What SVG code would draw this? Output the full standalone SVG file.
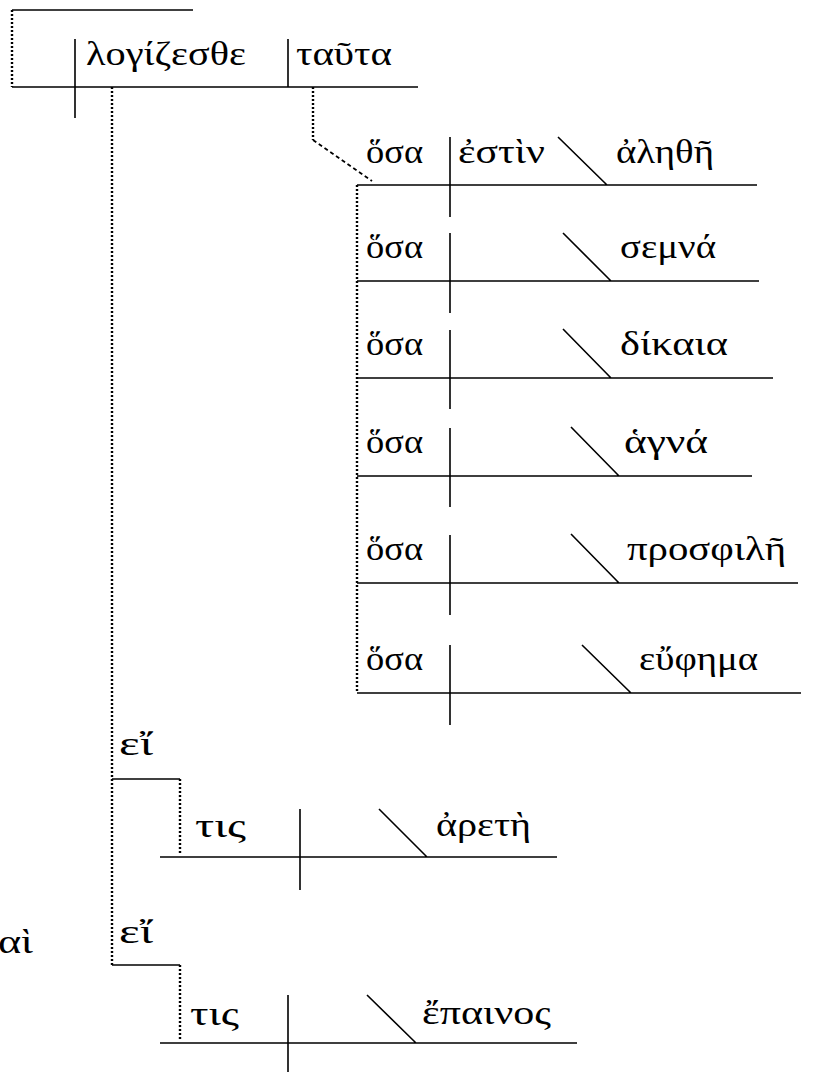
<svg xmlns="http://www.w3.org/2000/svg" width="817" height="1072" viewBox="0 0 817 1072">
<style>
.ln{stroke:#000;stroke-width:1.6;fill:none}
.dot{stroke:#000;stroke-width:2.4;stroke-dasharray:2 2;fill:none}
.dash{stroke:#000;stroke-width:1.8;stroke-dasharray:4 3;fill:none}
text{font-family:"Liberation Serif","DejaVu Serif",serif;font-size:34px;fill:#000}
</style>
<rect width="817" height="1072" fill="#fff"/>
<g id="connectors">
<path class="dot" d="M12 10V87"/>
<path class="dot" d="M112 87V965"/>
<path class="dot" d="M313 87V140"/>
<path class="dash" d="M313 140L372 181"/>
<path class="dot" d="M357 185V693"/>
<path class="dot" d="M180 779V855"/>
<path class="dot" d="M180 965V1041"/>
</g>
<g id="prev"><path class="ln" d="M12 10H193"/></g>
<g id="main">
<path class="ln" d="M12 87H418M75 39V118M288 39V87"/>
<text x="86" y="65" textLength="160" lengthAdjust="spacingAndGlyphs">λογίζεσθε</text>
<text x="296" y="65" textLength="96" lengthAdjust="spacingAndGlyphs">ταῦτα</text>
</g>
<g id="row1">
<path class="ln" d="M357 185H757M450 137V217M558 137L607 185"/>
<text x="366" y="163" textLength="57" lengthAdjust="spacingAndGlyphs">ὅσα</text>
<text x="458" y="163" textLength="87" lengthAdjust="spacingAndGlyphs">ἐστὶν</text>
<text x="616" y="163" textLength="98" lengthAdjust="spacingAndGlyphs">ἀληθῆ</text>
</g>
<g id="row2">
<path class="ln" d="M357 281H759M450 233V313M563 233L611 281"/>
<text x="366" y="258" textLength="57" lengthAdjust="spacingAndGlyphs">ὅσα</text>
<text x="620" y="258" textLength="96" lengthAdjust="spacingAndGlyphs">σεμνά</text>
</g>
<g id="row3">
<path class="ln" d="M357 378H773M450 330V409M563 329L611 378"/>
<text x="366" y="355" textLength="57" lengthAdjust="spacingAndGlyphs">ὅσα</text>
<text x="620" y="355" textLength="108" lengthAdjust="spacingAndGlyphs">δίκαια</text>
</g>
<g id="row4">
<path class="ln" d="M357 476H752M450 428V507M571 427L619 476"/>
<text x="366" y="453" textLength="57" lengthAdjust="spacingAndGlyphs">ὅσα</text>
<text x="624" y="453" textLength="84" lengthAdjust="spacingAndGlyphs">ἁγνά</text>
</g>
<g id="row5">
<path class="ln" d="M357 583H798M450 535V615M571 534L619 583"/>
<text x="366" y="560" textLength="57" lengthAdjust="spacingAndGlyphs">ὅσα</text>
<text x="627" y="560" textLength="159" lengthAdjust="spacingAndGlyphs">προσφιλῆ</text>
</g>
<g id="row6">
<path class="ln" d="M357 693H801M450 645V725M582 645L631 693"/>
<text x="366" y="670" textLength="57" lengthAdjust="spacingAndGlyphs">ὅσα</text>
<text x="639" y="670" textLength="119" lengthAdjust="spacingAndGlyphs">εὔφημα</text>
</g>
<g id="ei1">
<path class="ln" d="M112 779H180"/>
<text x="119" y="755" textLength="34" lengthAdjust="spacingAndGlyphs">εἴ</text>
</g>
<g id="tis1">
<path class="ln" d="M160 857H557M300 809V890M379 809L427 857"/>
<text x="195" y="837" textLength="51" lengthAdjust="spacingAndGlyphs">τις</text>
<text x="436" y="836" textLength="95" lengthAdjust="spacingAndGlyphs">ἀρετὴ</text>
</g>
<g id="kai">
<text x="-2" y="953" textLength="35" lengthAdjust="spacingAndGlyphs">αὶ</text>
</g>
<g id="ei2">
<path class="ln" d="M112 965H180"/>
<text x="119" y="943" textLength="34" lengthAdjust="spacingAndGlyphs">εἴ</text>
</g>
<g id="tis2">
<path class="ln" d="M160 1043H577M288 995V1072M367 995L416 1043"/>
<text x="190" y="1025" textLength="49" lengthAdjust="spacingAndGlyphs">τις</text>
<text x="422" y="1024" textLength="129" lengthAdjust="spacingAndGlyphs">ἔπαινος</text>
</g>
</svg>
